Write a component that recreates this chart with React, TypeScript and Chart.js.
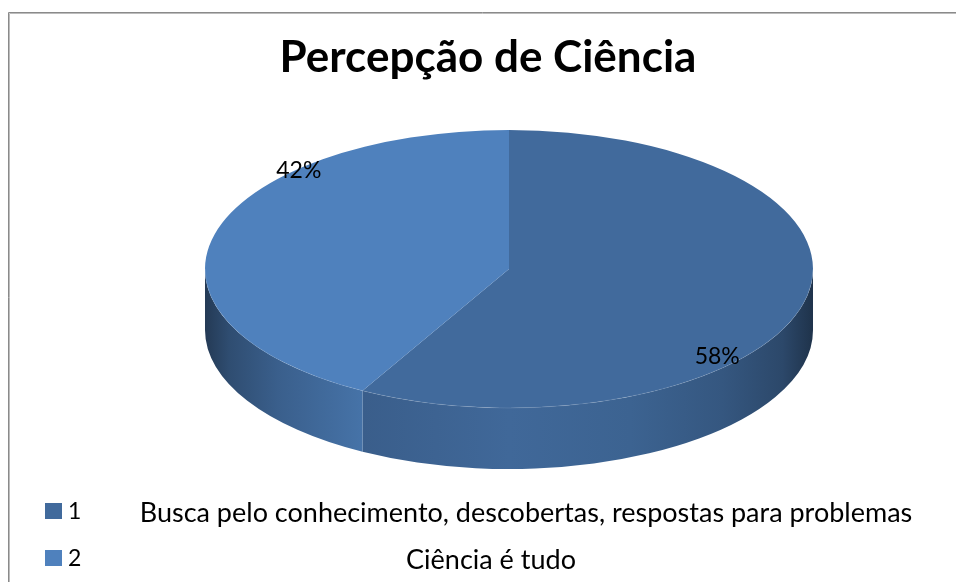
import React, { useEffect, useRef } from "react";
import { Chart, registerables } from "chart.js";

Chart.register(...registerables);

// ---- data ----
const categories = ["1", "2"];
const descriptions = [
  "Busca pelo conhecimento, descobertas, respostas para problemas",
  "Ciência é tudo",
];
const values = [58, 42];
const percentLabels = ["58%", "42%"];
const sliceColors = ["#416A9C", "#4F81BD"];
const titleText = "Percepção de Ciência";

const FONT = "Lato, 'Open Sans', sans-serif";

// 3D geometry of the pie (ellipse in page pixels) and side depth
const GEO = { cx: 509, cy: 269, rx: 304, ry: 139, depth: 61 };
// shading factors across the side band (left -> right)
const SIDE_STOPS: [number, number][] = [
  [0, 0.45],
  [0.04, 0.6],
  [0.12, 0.74],
  [0.26, 0.89],
  [0.5, 0.98],
  [0.7, 0.93],
  [0.85, 0.82],
  [0.95, 0.68],
  [1, 0.48],
];

function shade(hex: string, f: number) {
  const n = parseInt(hex.slice(1), 16);
  const r = Math.round(((n >> 16) & 255) * f);
  const g = Math.round(((n >> 8) & 255) * f);
  const b = Math.round((n & 255) * f);
  return `rgb(${r},${g},${b})`;
}

const frame = {
  id: "frame",
  beforeDraw(chart: any) {
    const ctx: CanvasRenderingContext2D = chart.ctx;
    ctx.save();
    ctx.fillStyle = "#fff";
    ctx.fillRect(0, 0, chart.width, chart.height);
    ctx.lineWidth = 1;
    ctx.strokeStyle = "#8a8a8a";
    ctx.beginPath();
    ctx.moveTo(8.5, chart.height);
    ctx.lineTo(8.5, 12.5);
    ctx.lineTo(chart.width, 12.5);
    ctx.stroke();
    ctx.strokeStyle = "#bcbcbc";
    ctx.beginPath();
    ctx.moveTo(9.5, chart.height);
    ctx.lineTo(9.5, 13.5);
    ctx.lineTo(chart.width, 13.5);
    ctx.stroke();
    ctx.restore();
  },
};

const pie3d = {
  id: "pie3d",
  beforeDatasetsDraw(chart: any) {
    const ctx: CanvasRenderingContext2D = chart.ctx;
    const arcs = chart.getDatasetMeta(0).data;
    const { cx, cy, rx, ry, depth } = GEO;
    const colors = chart.data.datasets[0].backgroundColor as string[];
    const TAU = Math.PI * 2;

    arcs.forEach((arc: any, i: number) => {
      const { startAngle, endAngle } = arc.getProps(["startAngle", "endAngle"], true);
      for (let k = -1; k <= 1; k++) {
        const lo = Math.max(startAngle, k * TAU);
        const hi = Math.min(endAngle, k * TAU + Math.PI);
        if (hi <= lo) continue;
        ctx.save();
        ctx.beginPath();
        ctx.ellipse(cx, cy, rx, ry, 0, lo, hi, false);
        ctx.lineTo(cx + rx * Math.cos(hi), cy + depth + ry * Math.sin(hi));
        ctx.ellipse(cx, cy + depth, rx, ry, 0, hi, lo, true);
        ctx.closePath();
        const grad = ctx.createLinearGradient(cx - rx, 0, cx + rx, 0);
        SIDE_STOPS.forEach(([t, f]) => grad.addColorStop(t, shade(colors[i], f)));
        ctx.fillStyle = grad;
        ctx.fill();
        ctx.restore();
      }
    });

    const p = arcs[0].getProps(["x", "y", "outerRadius"], true);
    ctx.save();
    ctx.translate(cx, cy);
    ctx.scale(rx / p.outerRadius, ry / p.outerRadius);
    ctx.translate(-p.x, -p.y);
  },
  afterDatasetsDraw(chart: any) {
    const ctx: CanvasRenderingContext2D = chart.ctx;
    ctx.restore();
    const { cx, cy, rx, ry } = GEO;

    // subtle highlight on front rim of top face
    ctx.save();
    ctx.beginPath();
    ctx.ellipse(cx, cy, rx, ry, 0, 0, Math.PI, false);
    ctx.strokeStyle = "rgba(255,255,255,0.10)";
    ctx.lineWidth = 1;
    ctx.stroke();
    ctx.restore();

    // percentage labels
    const arcs = chart.getDatasetMeta(0).data;
    ctx.save();
    ctx.font = `23px ${FONT}`;
    ctx.fillStyle = "#000";
    ctx.textAlign = "center";
    ctx.textBaseline = "alphabetic";
    arcs.forEach((arc: any, i: number) => {
      const { startAngle, endAngle } = arc.getProps(["startAngle", "endAngle"], true);
      const a = (startAngle + endAngle) / 2 + 0.52;
      const x = cx + rx * 0.96 * Math.cos(a);
      const y = cy + ry * 0.96 * Math.sin(a);
      ctx.fillText(percentLabels[i], x - 1, y + 2);
    });
    ctx.restore();
  },
  afterDraw(chart: any) {
    const ctx: CanvasRenderingContext2D = chart.ctx;
    const colors = chart.data.datasets[0].backgroundColor as string[];
    const rowTop = 503;
    const rowGap = 47;
    const textCenters = [526, 491];
    ctx.save();
    chart.data.labels.forEach((lab: string, i: number) => {
      const top = rowTop + i * rowGap;
      ctx.fillStyle = colors[i];
      ctx.fillRect(45, top, 17, 16);
      ctx.fillStyle = "#000";
      ctx.textBaseline = "alphabetic";
      ctx.textAlign = "left";
      ctx.font = `23px ${FONT}`;
      ctx.fillText(lab, 68, top + 16);
      ctx.textAlign = "center";
      ctx.font = `27px ${FONT}`;
      ctx.fillText(descriptions[i], textCenters[i], top + 19);
    });
    ctx.restore();
  },
};

export default function App() {
  const ref = useRef<HTMLCanvasElement | null>(null);

  useEffect(() => {
    if (!ref.current) return;
    const chart = new Chart(ref.current, {
      type: "pie",
      data: {
        labels: categories,
        datasets: [
          {
            data: values,
            backgroundColor: sliceColors,
            borderWidth: 0,
            hoverOffset: 0,
            clip: false as any,
          },
        ],
      },
      options: {
        responsive: false,
        animation: false,
        events: [],
        layout: { padding: { left: 20, right: 0, top: 0, bottom: 90 } },
        plugins: {
          legend: { display: false },
          tooltip: { enabled: false },
          title: {
            display: true,
            text: titleText,
            color: "#000",
            font: { family: FONT, size: 44, weight: "bold" },
            padding: { top: 31, bottom: 10 },
          },
        },
      },
      plugins: [frame, pie3d],
    });
    return () => chart.destroy();
  }, []);

  return (
    <div
      style={{
        position: "fixed",
        left: 0,
        top: 0,
        width: 956,
        height: 582,
        overflow: "hidden",
        background: "#fff",
      }}
    >
      <canvas
        ref={ref}
        width={956}
        height={582}
        style={{ display: "block", width: 956, height: 582 }}
      />
    </div>
  );
}
